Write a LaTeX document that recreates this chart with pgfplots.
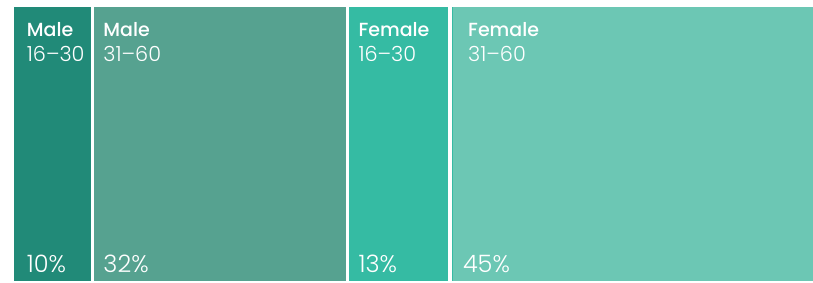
\documentclass[border=0pt]{standalone}
\usepackage{pgfplots}
\pgfplotsset{compat=1.18}
\usepackage{fontspec}
\setmainfont{Poppins}
\newfontfamily\lightfont{Poppins Light}
\newfontfamily\medfont{Poppins Medium}
\definecolor{cA}{RGB}{33,138,120}
\definecolor{cB}{RGB}{86,162,144}
\definecolor{cC}{RGB}{53,187,163}
\definecolor{cD}{RGB}{108,199,180}
\tikzset{
  lbl/.style={anchor=base west, inner sep=0pt, text=white, font=\fontsize{19}{22}\medfont},
  sub/.style={anchor=base west, inner sep=0pt, text=white, font=\fontsize{20.8}{24}\lightfont},
  pct/.style={anchor=base west, inner sep=0pt, text=white, font=\fontsize{24}{28}\lightfont},
}
\begin{document}
\begin{tikzpicture}[x=1pt,y=1pt]
\begin{axis}[
  scale only axis,
  width=813pt, height=281pt,
  xmin=-1.689, xmax=100,
  ymin=0, ymax=1.02555,
  hide axis,
  clip=false,
]
\path (rel axis cs:0,0) rectangle (rel axis cs:1,1);
% shares: Male 16-30 = 10, Male 31-60 = 32, Female 16-30 = 13, Female 31-60 = 45
\addplot[fill=cA, draw=none] coordinates {(0,0) (10,0) (10,1) (0,1)} -- cycle;
\addplot[fill=cB, draw=none] coordinates {(10,0) (42,0) (42,1) (10,1)} -- cycle;
\addplot[fill=cC, draw=none] coordinates {(42,0) (55,0) (55,1) (42,1)} -- cycle;
\addplot[fill=cD, draw=none] coordinates {(55,0) (100,0) (100,1) (55,1)} -- cycle;
\addplot[white, line width=3.5pt] coordinates {(9.85,0) (9.85,1)};
\addplot[white, line width=3.5pt] coordinates {(41.8,0) (41.8,1)};
\addplot[white, line width=3.5pt] coordinates {(54.6,0) (54.6,1)};
% labels
\node[lbl] at (axis cs:1.65,0.8916) {Male};
\node[sub] at (axis cs:1.65,0.8011) {16–30};
\node[pct] at (axis cs:1.65,0.0318) {10\%};
\node[lbl] at (axis cs:11.23,0.8916) {Male};
\node[sub] at (axis cs:11.23,0.8011) {31–60};
\node[pct] at (axis cs:11.23,0.0318) {32\%};
\node[lbl] at (axis cs:43.13,0.8916) {Female};
\node[sub] at (axis cs:43.13,0.8011) {16–30};
\node[pct] at (axis cs:43.13,0.0318) {13\%};
\node[lbl] at (axis cs:56.85,0.8916) {Female};
\node[sub] at (axis cs:56.85,0.8011) {31–60};
\node[pct] at (axis cs:56.2,0.0318) {45\%};
\end{axis}
\end{tikzpicture}
\end{document}
